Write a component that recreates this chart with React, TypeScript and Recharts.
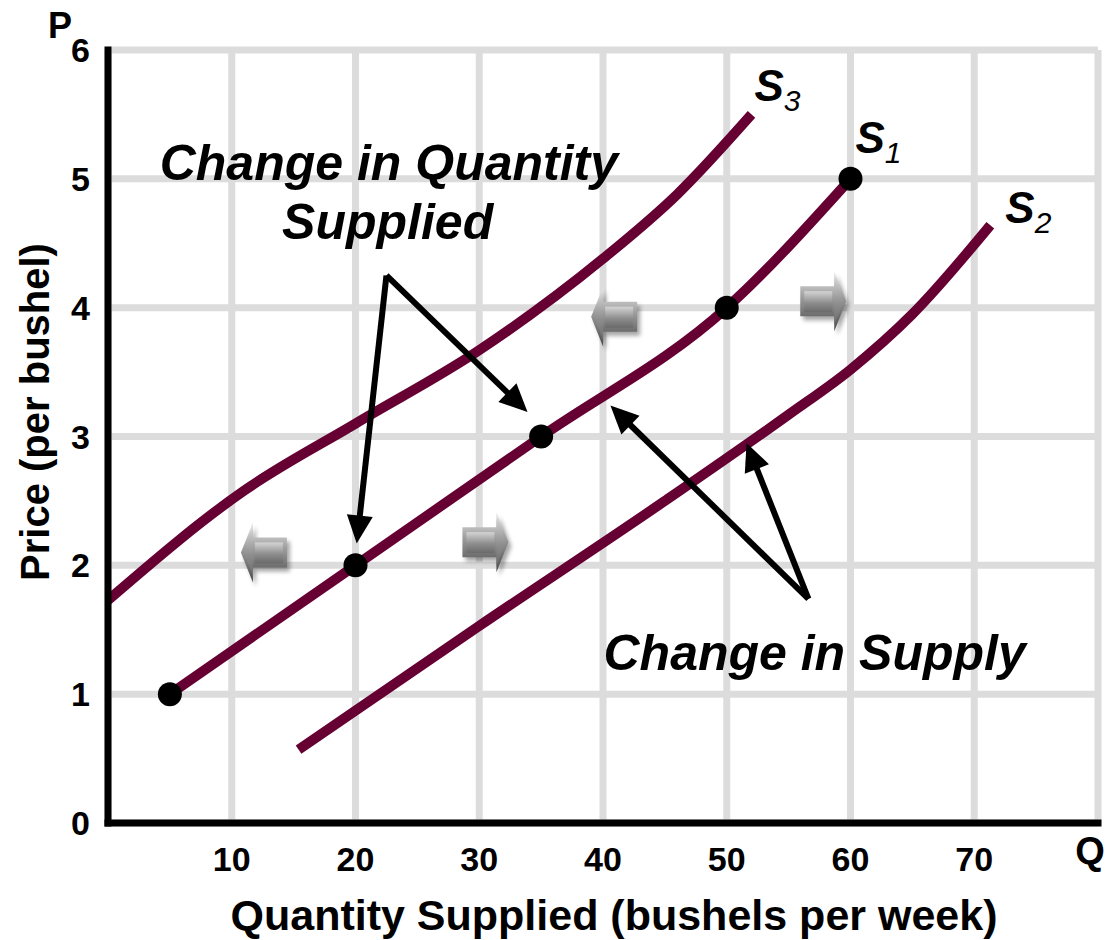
import React from "react";
import {
  LineChart,
  Line,
  XAxis,
  YAxis,
  CartesianGrid,
  ReferenceLine,
  ReferenceDot,
} from "recharts";

const FONT = '"Liberation Sans", Arial, Helvetica, sans-serif';
const CURVE = "#660033";

// supply schedules: quantity (bushels per week) vs price (per bushel)
const s1Qty = [5, 20, 35, 50, 60];
const s1Price = [1, 2, 3, 4, 5];
const s2Qty = [15.4, 30, 45, 55, 60, 65, 71.3];
const s2Price = [0.57, 1.53, 2.5, 3.17, 3.52, 3.95, 4.64];
const s3Qty = [0, 11, 20, 30, 40, 46, 52];
const s3Price = [1.73, 2.58, 3.1, 3.67, 4.38, 4.88, 5.5];

const qtyTicks = [0, 10, 20, 30, 40, 50, 60, 70, 80];
const priceTicks = [0, 1, 2, 3, 4, 5, 6];

const toRows = (qty: number[], price: number[]) =>
  qty.map((q, i) => ({ q, p: price[i] }));

const curves = [
  { key: "s3", sub: "3", rows: toRows(s3Qty, s3Price), dots: false, dx: 3, dy: -13 },
  { key: "s1", sub: "1", rows: toRows(s1Qty, s1Price), dots: true, dx: 5, dy: -26 },
  { key: "s2", sub: "2", rows: toRows(s2Qty, s2Price), dots: false, dx: 15, dy: -2 },
];

// grey block arrows showing movement along / shift of the curve
const shiftArrows = [
  { q: 12.6, p: 2.1, dir: -1 },
  { q: 30.5, p: 2.18, dir: 1 },
  { q: 40.9, p: 3.93, dir: -1 },
  { q: 57.8, p: 4.05, dir: 1 },
];

// black callout arrows [from, to]
const pointers = [
  { from: { x: 22.5, y: 4.25 }, to: { x: 20.1, y: 2.17 } },
  { from: { x: 22.5, y: 4.25 }, to: { x: 33.9, y: 3.19 } },
  { from: { x: 56.6, y: 1.74 }, to: { x: 40.6, y: 3.24 } },
  { from: { x: 56.6, y: 1.74 }, to: { x: 51.6, y: 2.95 } },
];

const captions = [
  { q: 22.7, p: 4.99, text: "Change in Quantity" },
  { q: 22.6, p: 4.53, text: "Supplied" },
  { q: 57.1, p: 1.19, text: "Change in Supply" },
];

const Pointer = (props: any) => {
  const { x1, y1, x2, y2 } = props;
  const dx = x2 - x1;
  const dy = y2 - y1;
  const len = Math.hypot(dx, dy) || 1;
  const ux = dx / len;
  const uy = dy / len;
  const headLen = 28;
  const headHalf = 13;
  const bx = x2 - ux * headLen;
  const by = y2 - uy * headLen;
  const nx = -uy;
  const ny = ux;
  return (
    <g>
      <line x1={x1} y1={y1} x2={bx + ux * 2} y2={by + uy * 2} stroke="#000" strokeWidth={6} />
      <polygon
        points={`${x2},${y2} ${bx + nx * headHalf},${by + ny * headHalf} ${bx - nx * headHalf},${by - ny * headHalf}`}
        fill="#000"
      />
    </g>
  );
};

const BlockArrow = ({ cx, cy, dir }: any) => {
  const pts = (list: number[][]) =>
    list.map(([x, y]) => `${cx + x * dir},${cy + y}`).join(" ");
  const outline = pts([
    [-23, -15], [11, -15], [11, -30], [23, 0], [11, 30], [11, 15], [-23, 15],
  ]);
  const face = pts([[-19, -10], [9, -10], [9, 11], [-19, 11]]);
  const head = pts([[11, -24], [20, 0], [11, 24]]);
  return (
    <g>
      <polygon points={outline} fill="#000" opacity={0.35} transform="translate(3,4)" filter="url(#arrowBlur)" />
      <polygon points={outline} fill="url(#arrowShade)" />
      <polygon points={face} fill="url(#arrowFace)" />
      <polygon points={head} fill="url(#arrowFace)" />
    </g>
  );
};

const CurveName = ({ cx, cy, sub, dx, dy }: any) => (
  <text x={cx + dx} y={cy + dy} fontFamily={FONT} fill="#000" fontStyle="italic">
    <tspan fontSize={44} fontWeight="bold">S</tspan>
    <tspan fontSize={30} dy={10}>{sub}</tspan>
  </text>
);

const Caption = ({ cx, cy, text }: any) => (
  <text
    x={cx}
    y={cy}
    textAnchor="middle"
    fontFamily={FONT}
    fontSize={50}
    fontWeight="bold"
    fontStyle="italic"
    fill="#000"
  >
    {text}
  </text>
);

const XTitle = ({ viewBox }: any) => (
  <g fontFamily={FONT} fontWeight="bold" fill="#000">
    <text x={viewBox.x + viewBox.width / 2 + 11} y={viewBox.y + 107} textAnchor="middle" fontSize={43}>
      Quantity Supplied (bushels per week)
    </text>
    <text x={viewBox.x + viewBox.width - 8} y={viewBox.y + 41} textAnchor="middle" fontSize={38}>
      Q
    </text>
  </g>
);

const YTitle = ({ viewBox }: any) => {
  const cx = 35;
  const cy = viewBox.y + 362;
  return (
    <g fontFamily={FONT} fontWeight="bold" fill="#000">
      <text x={viewBox.x} y={viewBox.y - 12} fontSize={36}>
        P
      </text>
      <text
        x={cx}
        y={cy}
        textAnchor="middle"
        dominantBaseline="central"
        fontSize={40}
        transform={`rotate(-90, ${cx}, ${cy})`}
      >
        Price (per bushel)
      </text>
    </g>
  );
};

const tickStyle = { fontFamily: FONT, fontSize: 34, fontWeight: "bold", fill: "#000" };
const axisStyle = { stroke: "#000", strokeWidth: 7, strokeLinecap: "square" as const };

export default function App() {
  return (
    <div style={{ position: "absolute", left: 0, top: 0, background: "#fff" }}>
      <LineChart width={1115} height={940} margin={{ top: 50, right: 17, bottom: 57, left: 48 }}>
        <defs>
          <linearGradient id="arrowShade" x1="0" y1="0" x2="0" y2="1">
            <stop offset="0%" stopColor="#ececec" />
            <stop offset="45%" stopColor="#9a9a9a" />
            <stop offset="100%" stopColor="#474747" />
          </linearGradient>
          <linearGradient id="arrowFace" x1="0" y1="0" x2="0" y2="1">
            <stop offset="0%" stopColor="#d4d4d4" />
            <stop offset="55%" stopColor="#8e8e8e" />
            <stop offset="100%" stopColor="#6a6a6a" />
          </linearGradient>
          <filter id="arrowBlur" x="-30%" y="-30%" width="160%" height="160%">
            <feGaussianBlur stdDeviation="2" />
          </filter>
        </defs>
        <CartesianGrid stroke="#dcdcdc" strokeWidth={7} />
        <XAxis
          type="number"
          dataKey="q"
          domain={[0, 80]}
          ticks={qtyTicks}
          interval={0}
          tickFormatter={(v: number) => (v === 0 || v === 80 ? "" : String(v))}
          tick={tickStyle}
          tickLine={false}
          tickSize={0}
          tickMargin={24}
          axisLine={axisStyle}
          height={60}
          label={{ content: XTitle }}
        />
        <YAxis
          type="number"
          dataKey="p"
          domain={[0, 6]}
          ticks={priceTicks}
          interval={0}
          tick={tickStyle}
          tickLine={false}
          tickSize={0}
          tickMargin={18}
          axisLine={axisStyle}
          width={60}
          label={{ content: YTitle }}
        />
        {curves.map((c) => (
          <Line
            key={c.key}
            data={c.rows}
            dataKey="p"
            type="monotone"
            stroke={CURVE}
            strokeWidth={10}
            dot={c.dots ? { r: 12, fill: "#000", stroke: "none", strokeWidth: 0 } : false}
            activeDot={false}
            isAnimationActive={false}
          />
        ))}
        {curves.map((c) => {
          const last = c.rows[c.rows.length - 1];
          return (
            <ReferenceDot
              key={`name-${c.key}`}
              x={last.q}
              y={last.p}
              r={0}
              ifOverflow="visible"
              shape={(props: any) => <CurveName {...props} sub={c.sub} dx={c.dx} dy={c.dy} />}
            />
          );
        })}
        {shiftArrows.map((a, i) => (
          <ReferenceDot
            key={`shift-${i}`}
            x={a.q}
            y={a.p}
            r={0}
            shape={(props: any) => <BlockArrow {...props} dir={a.dir} />}
          />
        ))}
        {pointers.map((s, i) => (
          <ReferenceLine key={`ptr-${i}`} segment={[s.from, s.to]} shape={Pointer} />
        ))}
        {captions.map((t, i) => (
          <ReferenceDot
            key={`cap-${i}`}
            x={t.q}
            y={t.p}
            r={0}
            shape={(props: any) => <Caption {...props} text={t.text} />}
          />
        ))}
      </LineChart>
    </div>
  );
}
